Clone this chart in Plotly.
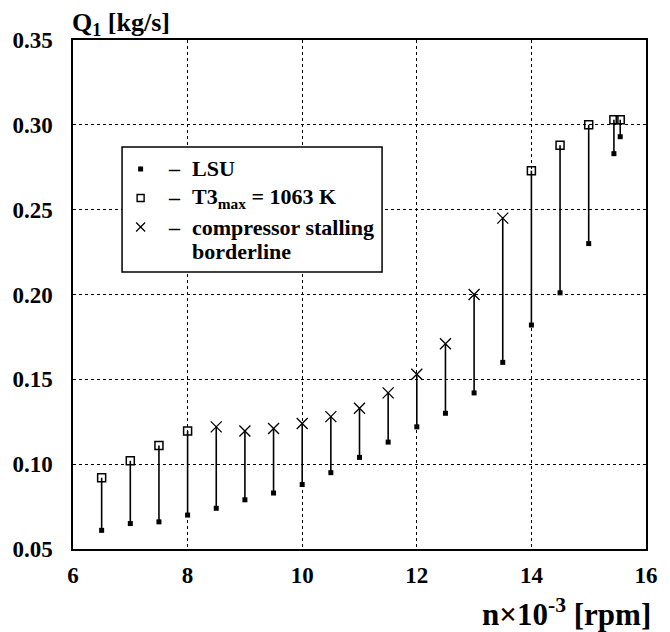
import plotly.graph_objects as go

# Rotational speed n x 10^-3 [rpm]
speed = [6.5, 7.0, 7.5, 8.0, 8.5, 9.0, 9.5, 10.0, 10.5, 11.0,
         11.5, 12.0, 12.5, 13.0, 13.5, 14.0, 14.5, 15.0, 15.44, 15.55]
# Air mass flow Q1 [kg/s] on the LSU line
q_lsu = [0.061, 0.065, 0.066, 0.070, 0.074, 0.079, 0.083, 0.088, 0.095, 0.104,
         0.113, 0.122, 0.130, 0.142, 0.160, 0.182, 0.201, 0.230, 0.283, 0.293]
# Upper limit of Q1 at each speed
q_limit = [0.092, 0.102, 0.111, 0.1195, 0.122, 0.1195, 0.121, 0.124, 0.128, 0.133,
           0.142, 0.153, 0.171, 0.200, 0.245, 0.273, 0.288, 0.300, 0.303, 0.303]
# Which constraint sets the upper limit
limit_kind = ["T3", "T3", "T3", "T3", "stall", "stall", "stall", "stall", "stall", "stall",
              "stall", "stall", "stall", "stall", "stall", "T3", "T3", "T3", "T3", "T3"]

x_ticks = [6, 8, 10, 12, 14, 16]
y_ticks = [0.05, 0.10, 0.15, 0.20, 0.25, 0.30, 0.35]
y_tick_text = ["0.05", "0.10", "0.15", "0.20", "0.25", "0.30", "0.35"]

legend_labels = ["LSU", "T3<sub>max</sub> = 1063 K", "compressor stalling", "borderline"]

SERIF = "Liberation Serif"
BLACK = "black"

# vertical ranges from LSU to the limit
stem_x, stem_y = [], []
for n, lo, hi in zip(speed, q_lsu, q_limit):
    stem_x += [n, n, None]
    stem_y += [lo, hi, None]

t3_x = [n for n, k in zip(speed, limit_kind) if k == "T3"]
t3_y = [q for q, k in zip(q_limit, limit_kind) if k == "T3"]
st_x = [n for n, k in zip(speed, limit_kind) if k == "stall"]
st_y = [q for q, k in zip(q_limit, limit_kind) if k == "stall"]

fig = go.Figure()
fig.add_trace(go.Scatter(x=stem_x, y=stem_y, mode="lines",
                         line=dict(color=BLACK, width=1.6), hoverinfo="skip"))
fig.add_trace(go.Scatter(x=speed, y=q_lsu, mode="markers", name="LSU",
                         marker=dict(symbol="square", size=5, color=BLACK),
                         cliponaxis=False))
fig.add_trace(go.Scatter(x=t3_x, y=t3_y, mode="markers", name="T3max",
                         marker=dict(symbol="square-open", size=8, color=BLACK,
                                     line=dict(width=1.5, color=BLACK)),
                         cliponaxis=False))
fig.add_trace(go.Scatter(x=st_x, y=st_y, mode="markers", name="stall",
                         marker=dict(symbol="x-thin", size=11, color=BLACK,
                                     line=dict(width=1.3, color=BLACK)),
                         cliponaxis=False))

axis_font = dict(family=SERIF, size=23, color=BLACK, weight="bold")

fig.update_xaxes(range=[6, 16], tickvals=x_ticks, ticktext=[str(t) for t in x_ticks],
                 tickfont=axis_font, showline=True, mirror=True, linecolor=BLACK,
                 linewidth=1.5, showgrid=True, gridcolor=BLACK, gridwidth=1.3,
                 griddash="dot", zeroline=False, ticks="", ticklabelstandoff=5)
fig.update_yaxes(range=[0.05, 0.35], tickvals=y_ticks, ticktext=y_tick_text,
                 tickfont=axis_font, showline=True, mirror=True, linecolor=BLACK,
                 linewidth=1.5, showgrid=True, gridcolor=BLACK, gridwidth=1.3,
                 griddash="dot", zeroline=False, ticks="", ticklabelstandoff=14)

# axis titles
fig.add_annotation(text="Q<sub>1</sub> [kg/s]", xref="paper", yref="paper",
                   x=-0.006, y=1.0, xanchor="left", yanchor="bottom", showarrow=False,
                   yshift=-2,
                   font=dict(family=SERIF, size=26, color=BLACK, weight="bold"))
fig.add_annotation(text="n×10<sup>-3</sup> [rpm]", xref="paper", yref="paper",
                   x=1.012, y=-0.124, xanchor="right", yanchor="middle", showarrow=False,
                   font=dict(family=SERIF, size=31, color=BLACK, weight="bold"))

# boxed key
key_font = dict(family=SERIF, size=22, color=BLACK, weight="bold")
fig.add_shape(type="rect", xref="paper", yref="paper", x0=0.0856, x1=0.5394,
              y0=0.5442, y1=0.7898, line=dict(color=BLACK, width=1.5),
              fillcolor="white", layer="above")

key_x = 0.118
row_y = [0.7466, 0.6896, 0.6326, 0.5835]

# key symbols (pixel sized, anchored in paper units)
fig.add_shape(type="rect", xref="paper", yref="paper", xsizemode="pixel",
              ysizemode="pixel", xanchor=key_x, yanchor=row_y[0],
              x0=-2.5, x1=2.5, y0=-2.5, y1=2.5, fillcolor=BLACK,
              line=dict(color=BLACK, width=0), layer="above")
fig.add_shape(type="rect", xref="paper", yref="paper", xsizemode="pixel",
              ysizemode="pixel", xanchor=key_x, yanchor=row_y[1],
              x0=-3.5, x1=3.5, y0=-3.5, y1=3.5, fillcolor="white",
              line=dict(color=BLACK, width=1.4), layer="above")
for sgn in (1, -1):
    fig.add_shape(type="line", xref="paper", yref="paper", xsizemode="pixel",
                  ysizemode="pixel", xanchor=key_x, yanchor=row_y[2],
                  x0=-4.5, x1=4.5, y0=-4.5 * sgn, y1=4.5 * sgn,
                  line=dict(color=BLACK, width=1.2), layer="above")

dash_x = (165 - 70) / 584
text_x = (189 - 70) / 584
for i, label in enumerate(legend_labels):
    if i < 3:
        fig.add_annotation(text="–", xref="paper", yref="paper", x=dash_x, y=row_y[i],
                           xanchor="left", yanchor="middle", showarrow=False,
                           font=key_font)
    fig.add_annotation(text=label, xref="paper", yref="paper", x=text_x, y=row_y[i],
                       xanchor="left", yanchor="middle", showarrow=False, font=key_font)

fig.update_layout(
    width=670, height=632,
    margin=dict(l=70, r=16, t=40, b=83),
    paper_bgcolor="white", plot_bgcolor="white",
    showlegend=False,
)

fig.write_html("out.html")
